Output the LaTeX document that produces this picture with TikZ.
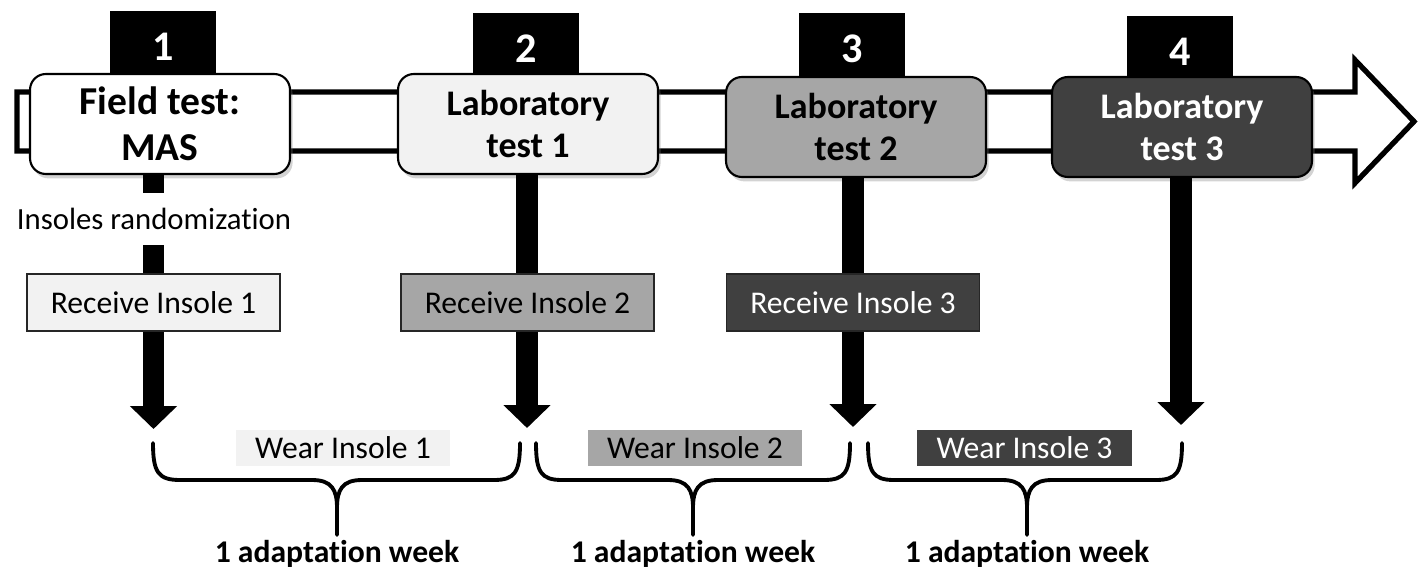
\documentclass[tikz,border=0pt]{standalone}
\usepackage{fontspec}
\setmainfont[Ligatures=NoCommon]{Carlito}
\usetikzlibrary{calc, shadows, arrows.meta}

\definecolor{lightfill}{HTML}{F2F2F2}
\definecolor{midfill}{HTML}{A6A6A6}
\definecolor{darkfill}{HTML}{404040}

\tikzset{
    testbox/.style={draw=black, line width=1.2pt, rounded corners=9pt,
        minimum width=5.2cm, minimum height=2cm, align=center,
        font=\bfseries\fontsize{20.5}{24}\selectfont,
        drop shadow={shadow xshift=1.5pt, shadow yshift=-2.5pt, opacity=0.35}},
    numtab/.style={fill=black, text=white, anchor=north,
        minimum width=2.12cm, minimum height=1.4cm,
        font=\bfseries\fontsize{24}{28}\selectfont},
    getbox/.style={draw=black!85, line width=0.8pt,
        minimum width=5.06cm, minimum height=1.14cm,
        font=\fontsize{18}{21}\selectfont},
    wearbox/.style={minimum width=4.3cm, minimum height=0.72cm,
        font=\fontsize{18}{21}\selectfont},
    stem/.style={line width=12.5pt, -{Triangle[length=13pt 0, width=26pt 0]}},
    brace/.style={line width=2.2pt, line cap=round},
    weeklabel/.style={font=\bfseries\fontsize{18}{21}\selectfont}
}

\begin{document}
\begin{tikzpicture}[x=0.02cm, y=-0.02cm]
    \useasboundingbox (0,0) rectangle (1422,571);

    % time line
    \draw[line width=3pt, line join=miter, fill=white]
        (17,92) -- (1355,92) -- (1355,60) -- (1414,121.5) -- (1355,183)
        -- (1355,151) -- (17,151) -- cycle;

    % number tabs
    \node[numtab] (n1) at (163,11) {1};
    \node[numtab] (n2) at (526,13) {2};
    \node[numtab] (n3) at (852,13) {3};
    \node[numtab] (n4) at (1180,16) {4};

    % tests
    \node[testbox, fill=white, font=\bfseries\fontsize{22.5}{26}\selectfont] (field) at (160,124) {Field test:\\MAS};
    \node[testbox, fill=lightfill] (lab1) at (528,124) {Laboratory\\test 1};
    \node[testbox, fill=midfill] (lab2) at (856,127) {Laboratory\\test 2};
    \node[testbox, fill=darkfill, text=white] (lab3) at (1182,127) {Laboratory\\test 3};

    % arrows down
    \coordinate (t1) at (153.5,429);
    \coordinate (t2) at (527,428);
    \coordinate (t3) at (853,427);
    \coordinate (t4) at (1181,425);
    \draw[stem] (t1 |- field.south) -- (t1);
    \draw[stem] (t2 |- lab1.south) -- (t2);
    \draw[stem] (t3 |- lab2.south) -- (t3);
    \draw[stem] (t4 |- lab3.south) -- (t4);

    \node[fill=white, inner sep=2pt, minimum height=1.05cm, font=\fontsize{17.5}{20}\selectfont] (rand) at (154,219) {Insoles randomization};

    % insoles received
    \node[getbox, fill=lightfill] (get1) at (153.5,302.5) {Receive Insole 1};
    \node[getbox, fill=midfill] (get2) at (527.5,302.5) {Receive Insole 2};
    \node[getbox, fill=darkfill, text=white] (get3) at (853,302.5) {Receive Insole 3};

    % insoles worn
    \node[wearbox, fill=lightfill] (wear1) at (343,448) {Wear Insole 1};
    \node[wearbox, fill=midfill] (wear2) at (695,448) {Wear Insole 2};
    \node[wearbox, fill=darkfill, text=white] (wear3) at (1024.5,448) {Wear Insole 3};

    % braces
    \draw[brace] (153,443) .. controls (153,472) and (158,480) .. (180,480) -- (312,480)
        .. controls (332,480) and (337,490) .. (337,508) -- (337,535);
    \draw[brace] (337,508) .. controls (337,490) and (342,480) .. (362,480)
        -- (494,480) .. controls (515,480) and (520,472) .. (520,443);
    \draw[brace] (536,443) .. controls (536,472) and (541,480) .. (562,480) -- (668,480)
        .. controls (688,480) and (693,490) .. (693,508) -- (693,535);
    \draw[brace] (693,508) .. controls (693,490) and (698,480) .. (718,480)
        -- (824,480) .. controls (845,480) and (850,472) .. (850,443);
    \draw[brace] (868,443) .. controls (868,472) and (873,480) .. (894,480) -- (1002,480)
        .. controls (1022,480) and (1027,490) .. (1027,508) -- (1027,535);
    \draw[brace] (1027,508) .. controls (1027,490) and (1032,480) .. (1052,480)
        -- (1156,480) .. controls (1177,480) and (1182,472) .. (1182,443);

    \node[weeklabel] (wk1) at (337,554) {1 adaptation week};
    \node[weeklabel] (wk2) at (693,554) {1 adaptation week};
    \node[weeklabel] (wk3) at (1027,554) {1 adaptation week};
\end{tikzpicture}
\end{document}
